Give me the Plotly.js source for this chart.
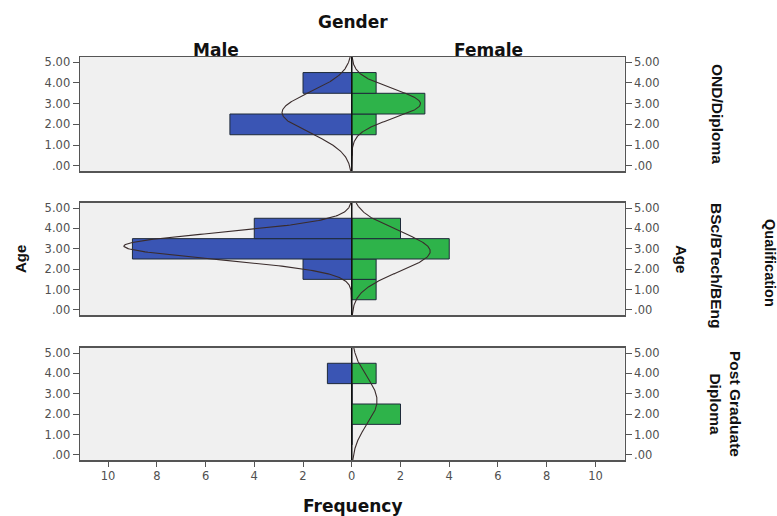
<!DOCTYPE html>
<html>
<head>
<meta charset="utf-8">
<script src="https://cdn.plot.ly/plotly-3.0.1.min.js"></script>
<style>html,body{margin:0;padding:0;background:#fff;}#chart{width:777px;height:516px;}</style>
</head>
<body>
<div id="chart"></div>
<script>
// ---- data ----
var ageLevels = [1, 2, 3, 4];
var qualifications = ["OND/Diploma", "BSc/BTech/BEng", "Post Graduate<br>Diploma"];
var maleOND = [0, 5, 0, 2];
var femaleOND = [0, 1, 3, 1];
var maleBSc = [0, 2, 9, 4];
var femaleBSc = [1, 1, 4, 2];
var malePGD = [0, 0, 0, 1];
var femalePGD = [0, 2, 0, 1];
var xTickVals = [-10, -8, -6, -4, -2, 0, 2, 4, 6, 8, 10];
var xTickText = ["10", "8", "6", "4", "2", "0", "2", "4", "6", "8", "10"];
var yTickVals = [0, 1, 2, 3, 4, 5];
var yTickText = [".00", "1.00", "2.00", "3.00", "4.00", "5.00"];

var maleData = [maleOND, maleBSc, malePGD];
var femaleData = [femaleOND, femaleBSc, femalePGD];

var blue = "#3a55b4", green = "#2eb34a", edge = "#1e2a3a";
var yRange = [-0.25, 5.25];
var xRange = [-11.15, 11.2];

function stats(counts) {
  var n = 0, s = 0;
  for (var i = 0; i < counts.length; i++) { n += counts[i]; s += counts[i] * ageLevels[i]; }
  var m = s / n, ss = 0;
  for (var j = 0; j < counts.length; j++) ss += counts[j] * Math.pow(ageLevels[j] - m, 2);
  var sd = n > 1 ? Math.sqrt(ss / (n - 1)) : 0;
  return {n: n, mean: m, sd: sd};
}
function curve(counts, sign) {
  var st = stats(counts);
  var xs = [], ys = [];
  if (st.sd === 0) return null;
  for (var k = 0; k <= 275; k++) {
    var y = yRange[0] + k * (yRange[1] - yRange[0]) / 275;
    var d = st.n / (st.sd * Math.sqrt(2 * Math.PI)) * Math.exp(-0.5 * Math.pow((y - st.mean) / st.sd, 2));
    xs.push(sign * d); ys.push(y);
  }
  return {x: xs, y: ys};
}

var traces = [];
var shapes = [];
for (var p = 0; p < 3; p++) {
  var xa = p === 0 ? "x" : "x" + (p + 1);
  var ya = p === 0 ? "y" : "y" + (p + 1);
  traces.push({type: "bar", orientation: "h", y: ageLevels, x: maleData[p].map(function (v) { return -v; }),
    width: 1, xaxis: xa, yaxis: ya, marker: {color: blue, line: {color: edge, width: 1}}, hoverinfo: "skip", showlegend: false});
  traces.push({type: "bar", orientation: "h", y: ageLevels, x: femaleData[p],
    width: 1, xaxis: xa, yaxis: ya, marker: {color: green, line: {color: edge, width: 1}}, hoverinfo: "skip", showlegend: false});
  var cm = curve(maleData[p], -1), cf = curve(femaleData[p], 1);
  [cm, cf].forEach(function (c) {
    if (c) traces.push({type: "scatter", mode: "lines", x: c.x, y: c.y, xaxis: xa, yaxis: ya,
      line: {color: "#3a2c2c", width: 1.1}, hoverinfo: "skip", showlegend: false});
  });
  traces.push({type: "scatter", mode: "markers", x: [0], y: [0], xaxis: xa, yaxis: "y" + (p + 4),
    marker: {opacity: 0}, hoverinfo: "skip", showlegend: false});
  shapes.push({type: "line", xref: xa, yref: ya, x0: 0, x1: 0, y0: yRange[0], y1: yRange[1],
    line: {color: "#111", width: 1.5}});
}

var doms = [[0.6686, 0.8895], [0.3895, 0.6066], [0.1085, 0.3256]];
function tf() { return {family: "DejaVu Sans, sans-serif", size: 11.5, color: "#505050"}; }
var layout = {
  width: 777, height: 516,
  margin: {l: 0, r: 0, t: 0, b: 0},
  paper_bgcolor: "#ffffff", plot_bgcolor: "#f0f0f0",
  barmode: "overlay", bargap: 0,
  showlegend: false,
  shapes: shapes,
  annotations: []
};
for (var q = 0; q < 3; q++) {
  var xn = q === 0 ? "xaxis" : "xaxis" + (q + 1);
  var yn = q === 0 ? "yaxis" : "yaxis" + (q + 1);
  var yid = q === 0 ? "y" : "y" + (q + 1);
  var xid = q === 0 ? "x" : "x" + (q + 1);
  layout[xn] = {domain: [0.103, 0.804], range: xRange, anchor: yid, showgrid: false, zeroline: false,
    showline: true, mirror: true, linecolor: "#555", linewidth: 1.5, color: "#505050",
    tickvals: xTickVals, ticktext: xTickText, ticks: q === 2 ? "outside" : "", ticklen: 5, tickcolor: "#555",
    showticklabels: q === 2, tickfont: tf(), automargin: false, fixedrange: true};
  layout[yn] = {domain: doms[q], range: yRange, anchor: xid, showgrid: false, zeroline: false,
    showline: true, mirror: true, linecolor: "#555", linewidth: 1.5, color: "#505050",
    tickvals: yTickVals, ticktext: yTickText, ticks: "outside", ticklen: 6, tickcolor: "#555",
    tickfont: tf(), automargin: false, fixedrange: true};
  layout["yaxis" + (q + 4)] = {overlaying: yid, side: "right", anchor: xid, range: yRange,
    showgrid: false, zeroline: false, showline: false, color: "#505050",
    tickvals: yTickVals, ticktext: yTickText, ticks: "outside", ticklen: 6, tickcolor: "#555",
    tickfont: tf(), automargin: false, fixedrange: true};
}

function ann(text, xpx, ypx, size, angle, fam) {
  return {text: text, xref: "paper", yref: "paper", x: xpx / 777, y: 1 - ypx / 516,
    xanchor: "center", yanchor: "middle", showarrow: false, textangle: angle || 0,
    font: {family: fam || "Liberation Sans, Arial, sans-serif", size: size, color: "#111"}};
}
var wide = "DejaVu Sans, sans-serif";
layout.annotations.push(ann("<b>Gender</b>", 353, 22, 17, 0, wide));
layout.annotations.push(ann("<b>Male</b>", 216, 50, 17, 0, wide));
layout.annotations.push(ann("<b>Female</b>", 488, 50, 17, 0, wide));
layout.annotations.push(ann("<b>Frequency</b>", 353, 506, 17, 0, wide));
layout.annotations.push(ann("<b>Age</b>", 20, 259, 15, -90));
layout.annotations.push(ann("<b>Age</b>", 682, 259, 15, 90));
layout.annotations.push(ann("<b>" + qualifications[0] + "</b>", 717, 114, 15.5, 90));
layout.annotations.push(ann("<b>" + qualifications[1] + "</b>", 717, 265, 15.5, 90));
layout.annotations.push(ann("<b>Post Graduate</b><br><b>Diploma</b>", 726, 404, 15.5, 90));
layout.annotations.push(ann("<b>Qualification</b>", 770, 263, 14.5, 90));

Plotly.newPlot("chart", traces, layout, {staticPlot: true, displayModeBar: false});
</script>
</body>
</html>
